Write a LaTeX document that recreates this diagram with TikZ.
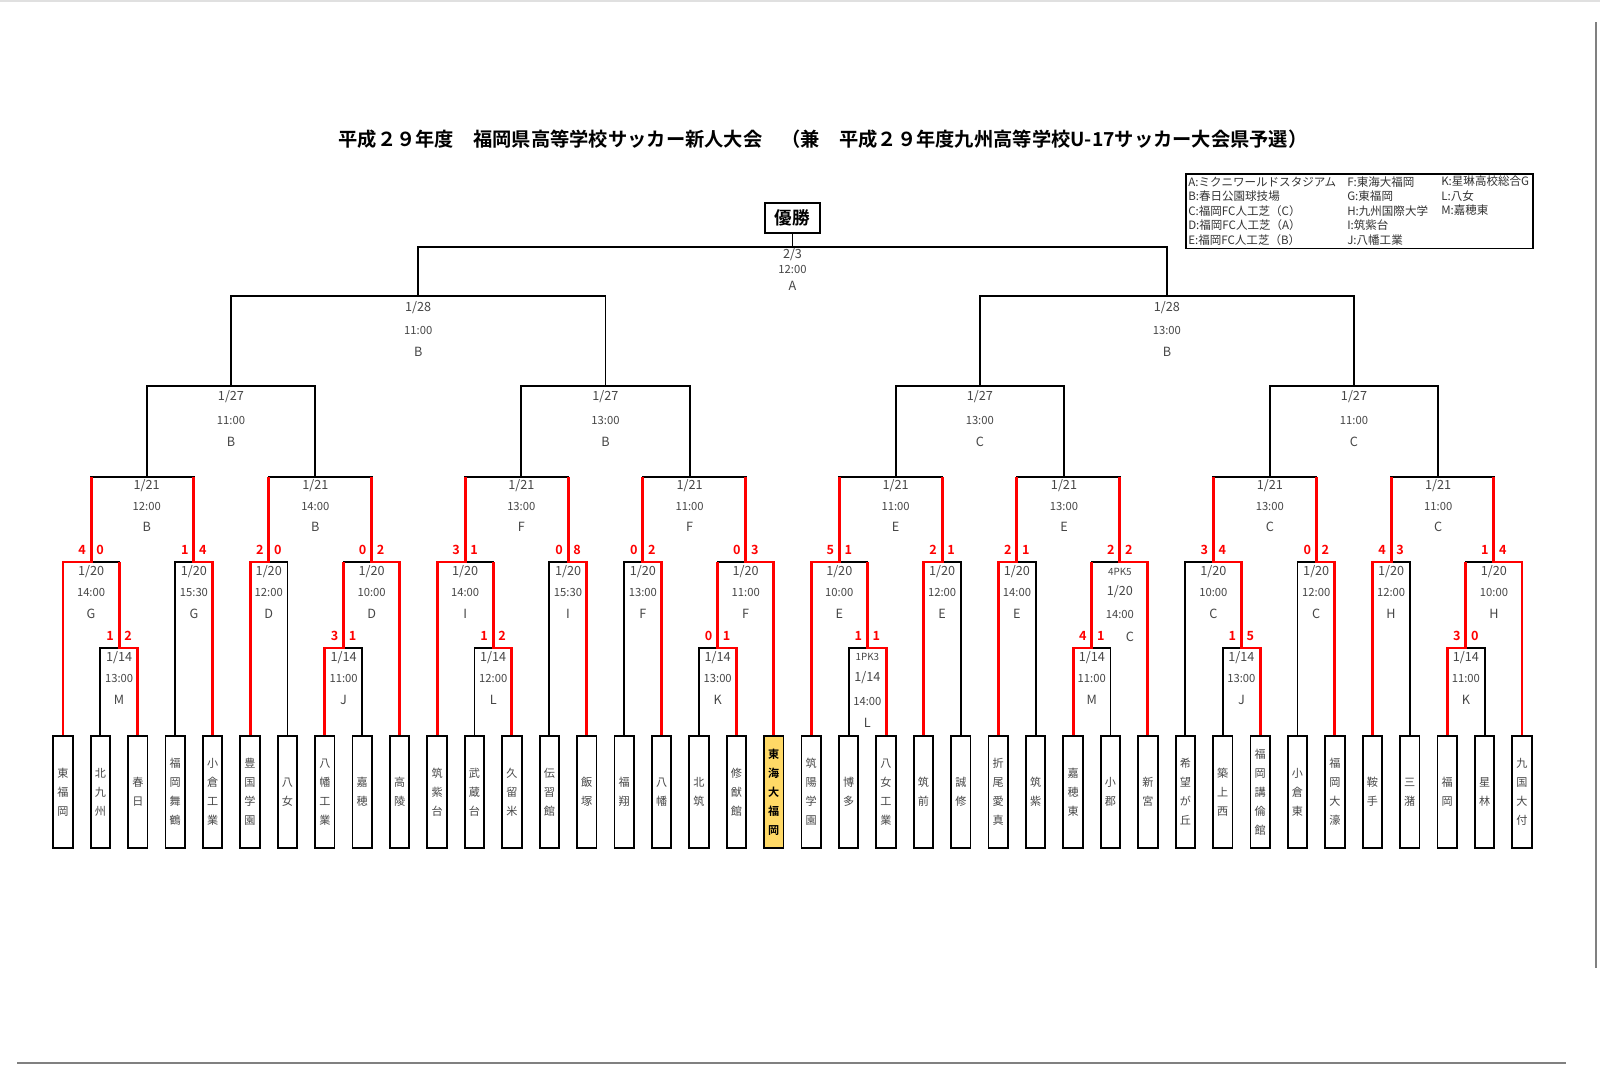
\documentclass[tikz,border=0pt]{standalone}
\usepackage{fontspec}
\setmainfont{Noto Sans CJK JP}[BoldFont={Noto Sans CJK JP Bold}]
\usepackage{tikz}
\usetikzlibrary{positioning, calc}
\definecolor{myRed}{RGB}{255,0,0}
\definecolor{myYellow}{RGB}{255,217,102}
\definecolor{myGray}{RGB}{70,70,70}

\tikzset{
  school/.style={draw=black, line width=1.3pt, fill=white, minimum width=0.485cm, minimum height=2.8cm,
    inner sep=0pt, align=center, text=black!72, font=\fontsize{7.9}{13.5}\selectfont},
  champ/.style={school, fill=myYellow, text=black, font=\fontsize{7.9}{13.5}\selectfont\bfseries},
  bracket/.style={black, line width=1.3pt},
  win/.style={myRed, line width=2.1pt},
  datelbl/.style={inner sep=0pt, text=myGray, font=\fontsize{9}{9}\selectfont},
  timelbl/.style={inner sep=0pt, text=myGray, font=\fontsize{8}{8}\selectfont},
  venuelbl/.style={inner sep=0pt, text=myGray, font=\fontsize{9}{9}\selectfont},
  pklbl/.style={inner sep=0pt, text=myGray, font=\fontsize{7}{7}\selectfont},
  score/.style={inner sep=0pt, text=myRed, font=\fontsize{9}{9}\selectfont\bfseries},
  legendtxt/.style={inner sep=0pt, align=left, text=black!80, font=\fontsize{8.2}{10.3}\selectfont}
}

\begin{document}
\begin{tikzpicture}[x=0.025cm, y=-0.025cm]
\useasboundingbox (0,0) rectangle (1600,1066);
\fill[white] (0,0) rectangle (1600,1066);

% page edges
\draw[black!12, line width=1pt] (0,0.8) -- (1600,0.8);
\draw[black!50, line width=1.5pt] (1596,22) -- (1596,968);
\draw[black!50, line width=1.5pt] (17,1063) -- (1566,1063);

% title
\node[font=\fontsize{13.7}{16}\selectfont\bfseries] (title) at (823,139)
  {平成２９年度　福岡県高等学校サッカー新人大会　（兼　平成２９年度九州高等学校U-17サッカー大会県予選）};

% venues
\node[draw, line width=1.3pt, anchor=north west, minimum width=8.675cm, minimum height=1.8625cm, inner sep=0pt] (legend) at (1185,173) {};
\node[legendtxt, anchor=west] (legA) at (1188,211) {A:ミクニワールドスタジアム\\B:春日公園球技場\\C:福岡FC人工芝（C）\\D:福岡FC人工芝（A）\\E:福岡FC人工芝（B）};
\node[legendtxt, anchor=west] (legF) at (1347,211) {F:東海大福岡\\G:東福岡\\H:九州国際大学\\I:筑紫台\\J:八幡工業};
\node[legendtxt, anchor=west] (legK) at (1441,196) {K:星琳高校総合G\\L:八女\\M:嘉穂東};

% winner box
\node[draw, line width=1.5pt, minimum width=1.375cm, minimum height=0.75cm, inner sep=0pt,
  font=\fontsize{12.5}{12.5}\selectfont\bfseries] (yusho) at (792.5,218) {優勝};

% schools
\foreach \school/\sty [count=\i from 0] in {
  {東\\福\\岡}/school, {北\\九\\州}/school, {春\\日}/school, {福\\岡\\舞\\鶴}/school, {小\\倉\\工\\業}/school,
  {豊\\国\\学\\園}/school, {八\\女}/school, {八\\幡\\工\\業}/school, {嘉\\穂}/school, {高\\陵}/school,
  {筑\\紫\\台}/school, {武\\蔵\\台}/school, {久\\留\\米}/school, {伝\\習\\館}/school, {飯\\塚}/school,
  {福\\翔}/school, {八\\幡}/school, {北\\筑}/school, {修\\猷\\館}/school, {東\\海\\大\\福\\岡}/champ,
  {筑\\陽\\学\\園}/school, {博\\多}/school, {八\\女\\工\\業}/school, {筑\\前}/school, {誠\\修}/school,
  {折\\尾\\愛\\真}/school, {筑\\紫}/school, {嘉\\穂\\東}/school, {小\\郡}/school, {新\\宮}/school,
  {希\\望\\が\\丘}/school, {築\\上\\西}/school, {福\\岡\\講\\倫\\館}/school, {小\\倉\\東}/school, {福\\岡\\大\\濠}/school,
  {鞍\\手}/school, {三\\潴}/school, {福\\岡}/school, {星\\林}/school, {九\\国\\大\\付}/school}
  \node[\sty, anchor=north] (t\i) at ({63+37.41*\i},735) {\school};

% match points
\foreach \mt/\x in {a1/119.12, a2/343.58, a3/493.22, a4/717.68, a5/867.32, a6/1091.78, a7/1241.42, a8/1465.88}
  \coordinate (\mt) at (\x,648);
\foreach \mt/\x in {h1/91.06, h2/193.94, h3/268.76, h4/371.63, h5/465.16, h6/568.04, h7/642.86, h8/745.73,
  h9/839.26, h10/942.14, h11/1016.96, h12/1119.83, h13/1213.36, h14/1316.24, h15/1391.06, h16/1493.93}
  \coordinate (\mt) at (\x,562);
\foreach \mt/\x in {r1/146.7, r2/315.3, r3/521.3, r4/689.6, r5/895.6, r6/1064.0, r7/1269.8, r8/1438.2}
  \coordinate (\mt) at (\x,477);
\foreach \mt/\x in {q1/231.0, q2/605.45, q3/979.8, q4/1354.0}
  \coordinate (\mt) at (\x,386);
\coordinate (s1) at (418.2,296);
\coordinate (s2) at (1166.9,296);
\coordinate (fin) at (792.5,247);

% bracket
\foreach \lft/\mt/\rgt in {t1/a1/t2, t7/a2/t8, t11/a3/t12, t17/a4/t18, t21/a5/t22, t27/a6/t28, t31/a7/t32, t37/a8/t38,
  t0/h1/a1, t3/h2/t4, t5/h3/t6, a2/h4/t9, t10/h5/a3, t13/h6/t14, t15/h7/t16, a4/h8/t19,
  t20/h9/a5, t23/h10/t24, t25/h11/t26, a6/h12/t29, t30/h13/a7, t33/h14/t34, t35/h15/t36, a8/h16/t39,
  h1/r1/h2, h3/r2/h4, h5/r3/h6, h7/r4/h8, h9/r5/h10, h11/r6/h12, h13/r7/h14, h15/r8/h16,
  r1/q1/r2, r3/q2/r4, r5/q3/r6, r7/q4/r8, q1/s1/q2, q3/s2/q4, s1/fin/s2}
  \draw[bracket] (\lft) |- (\mt) -| (\rgt);
\draw[bracket] (fin) -- (yusho);

% results so far
\foreach \wn/\mt/\up in {t2/a1/h1, t7/a2/h4, t12/a3/h5, t18/a4/h8, t22/a5/h9, t27/a6/h12, t32/a7/h13, t37/a8/h16,
  t0/h1/r1, t4/h2/r1, t5/h3/r2, t9/h4/r2, t10/h5/r3, t14/h6/r3, t16/h7/r4, t19/h8/r4,
  t20/h9/r5, t23/h10/r5, t25/h11/r6, t29/h12/r6, a7/h13/r7, t34/h14/r7, t35/h15/r8, t39/h16/r8}
  \draw[win] (\wn) |- (\mt) -- (\mt |- \up);

\foreach \mt/\sl/\sr in {a1/1/2, a2/3/1, a3/1/2, a4/0/1, a5/1/1, a6/4/1, a7/1/5, a8/3/0,
  h1/4/0, h2/1/4, h3/2/0, h4/0/2, h5/3/1, h6/0/8, h7/0/2, h8/0/3,
  h9/5/1, h10/2/1, h11/2/1, h12/2/2, h13/3/4, h14/0/2, h15/4/3, h16/1/4}
{
  \node[score] (\mt-l) at ($(\mt)+(-9,-12)$) {\sl};
  \node[score] (\mt-r) at ($(\mt)+(9,-12)$) {\sr};
}

% dates, times, grounds
\foreach \mt/\tm/\vn in {a1/13:00/M, a2/11:00/J, a3/12:00/L, a4/13:00/K, a6/11:00/M, a7/13:00/J, a8/11:00/K}
{
  \node[datelbl] (\mt-d) at ($(\mt)+(0,10)$) {1/14};
  \node[timelbl] (\mt-t) at ($(\mt)+(0,30)$) {\tm};
  \node[venuelbl] (\mt-v) at ($(\mt)+(0,52)$) {\vn};
}
\foreach \mt/\tm/\vn in {h1/14:00/G, h2/15:30/G, h3/12:00/D, h4/10:00/D, h5/14:00/I, h6/15:30/I, h7/13:00/F, h8/11:00/F,
  h9/10:00/E, h10/12:00/E, h11/14:00/E, h13/10:00/C, h14/12:00/C, h15/12:00/H, h16/10:00/H}
{
  \node[datelbl] (\mt-d) at ($(\mt)+(0,10)$) {1/20};
  \node[timelbl] (\mt-t) at ($(\mt)+(0,30)$) {\tm};
  \node[venuelbl] (\mt-v) at ($(\mt)+(0,52)$) {\vn};
}
\foreach \mt/\tm/\vn in {r1/12:00/B, r2/14:00/B, r3/13:00/F, r4/11:00/F, r5/11:00/E, r6/13:00/E, r7/13:00/C, r8/11:00/C}
{
  \node[datelbl] (\mt-d) at ($(\mt)+(0,9)$) {1/21};
  \node[timelbl] (\mt-t) at ($(\mt)+(0,29)$) {\tm};
  \node[venuelbl] (\mt-v) at ($(\mt)+(0,50)$) {\vn};
}
\foreach \mt/\tm/\vn in {q1/11:00/B, q2/13:00/B, q3/13:00/C, q4/11:00/C}
{
  \node[datelbl] (\mt-d) at ($(\mt)+(0,11)$) {1/27};
  \node[timelbl] (\mt-t) at ($(\mt)+(0,34)$) {\tm};
  \node[venuelbl] (\mt-v) at ($(\mt)+(0,56)$) {\vn};
}
\foreach \mt/\tm in {s1/11:00, s2/13:00}
{
  \node[datelbl] (\mt-d) at ($(\mt)+(0,12)$) {1/28};
  \node[timelbl] (\mt-t) at ($(\mt)+(0,34)$) {\tm};
  \node[venuelbl] (\mt-v) at ($(\mt)+(0,56)$) {B};
}
\node[datelbl] (fin-d) at ($(fin)+(0,8)$) {2/3};
\node[timelbl] (fin-t) at ($(fin)+(0,22)$) {12:00};
\node[venuelbl] (fin-v) at ($(fin)+(0,39)$) {A};

% penalty shoot-outs
\node[pklbl] (a5-pk) at ($(a5)+(0,9)$) {1PK3};
\node[datelbl] (a5-d) at ($(a5)+(0,30)$) {1/14};
\node[timelbl] (a5-t) at ($(a5)+(0,53)$) {14:00};
\node[venuelbl] (a5-v) at ($(a5)+(0,75)$) {L};
\node[pklbl] (h12-pk) at ($(h12)+(0,10)$) {4PK5};
\node[datelbl] (h12-d) at ($(h12)+(0,30)$) {1/20};
\node[timelbl] (h12-t) at ($(h12)+(0,52)$) {14:00};
\node[venuelbl] (h12-v) at ($(h12)+(10,75)$) {C};
\end{tikzpicture}
\end{document}
